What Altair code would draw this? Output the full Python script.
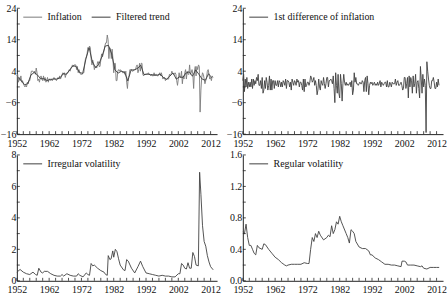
import altair as alt
import numpy as np
import pandas as pd

FONT = "Liberation Serif"

# Quarterly inflation (annualised %), 1952Q1 - 2012Q4
inflation = [
    2.5, 3.0, 0.5, 2.0,   1.0, 2.5, 0.5, 1.0,   0.0, -0.5, -1.0, -0.5,  -1.0, 0.5, 0.0, 1.0,
    1.0, 2.5, 4.0, 4.0,   4.0, 3.5, 4.0, 3.0,   5.0, 3.5, 1.0, 1.5,   0.5, 2.0, 2.5, 1.5,
    1.0, 2.5, 1.0, 2.0,   0.5, 1.0, 2.0, 0.5,   1.5, 1.5, 1.0, 1.5,   1.0, 1.5, 2.0, 1.5,
    1.5, 1.0, 1.5, 2.0,   1.5, 2.5, 1.5, 2.0,   3.0, 3.5, 3.0, 3.5,   2.0, 3.0, 3.5, 3.5,
    4.0, 4.5, 4.0, 5.0,   5.5, 6.0, 5.5, 6.0,   6.0, 6.0, 4.5, 5.5,   3.5, 4.5, 3.5, 3.0,
    3.0, 3.0, 3.5, 3.5,   6.0, 8.0, 8.5, 9.5,   11.5, 11.0, 12.0, 11.5, 8.0, 6.0, 7.5, 6.5,
    4.5, 5.5, 5.5, 5.0,   7.0, 7.0, 5.5, 5.5,   7.5, 9.5, 8.5, 9.5,   10.5, 12.0, 13.0, 13.0,
    15.5, 14.0, 8.0, 11.5, 11.0, 8.0, 11.0, 8.0, 3.5, 6.5, 6.5, 1.0,   1.0, 4.0, 4.5, 4.0,
    4.5, 4.0, 4.0, 3.5,   3.5, 4.0, 3.0, 4.0,   0.5, -1.5, 2.0, 2.5,  4.5, 4.5, 4.5, 4.0,
    4.0, 4.5, 4.5, 4.5,   5.5, 6.0, 3.5, 4.5,   6.5, 4.0, 6.5, 6.5,   3.0, 2.5, 3.0, 3.0,
    3.0, 3.0, 3.0, 3.5,   3.0, 3.0, 2.5, 3.0,   2.5, 2.5, 3.5, 2.5,   3.0, 3.0, 2.5, 2.5,
    3.0, 3.5, 2.5, 3.5,   2.5, 1.5, 2.0, 2.0,   1.0, 1.5, 1.5, 1.5,   1.5, 3.0, 2.5, 3.0,
    4.0, 3.5, 3.0, 3.0,   3.5, 3.0, 1.0, -0.5,  1.5, 3.5, 2.0, 2.0,   4.0, 0.0, 2.5, 1.5,
    3.5, 4.5, 1.5, 4.0,   3.0, 3.0, 6.0, 3.0,   3.5, 4.5, 3.0, -1.5,  4.0, 5.5, 2.5, 5.5,
    4.5, 6.0, 5.5, -9.0,  -2.0, 2.0, 3.5, 3.0,  1.5, 0.0, 1.0, 2.0,   4.0, 4.5, 3.0, 1.5,
    2.0, 1.0, 2.5, 2.0,
]

# Filtered trend, one value per year 1952 - 2012
trend_years = list(range(1952, 2013))
trend = [
    2.0, 1.0, -0.3, 0.0, 2.8, 3.6, 2.8, 1.6, 1.6, 1.0,
    1.4, 1.5, 1.5, 1.9, 3.2, 3.0, 4.4, 5.7, 5.5, 3.6,
    3.3, 7.8, 11.5, 7.0, 5.1, 6.2, 8.7, 12.0, 12.2, 9.5,
    4.4, 3.4, 4.0, 3.6, 0.9, 4.4, 4.4, 4.9, 5.9, 2.9,
    3.1, 2.9, 2.8, 2.7, 3.1, 2.0, 1.4, 2.5, 3.4, 1.5,
    2.2, 2.0, 3.4, 3.8, 2.4, 4.4, 3.0, 1.5, 1.1, 3.2,
    1.9,
]

# Quarterly first difference of inflation, 1952Q1 - 2012Q4
first_diff = [
    1.0, 3.0, -2.5, 1.5,  -1.0, 2.0, -1.5, 0.5,  -1.0, 0.5, -1.0, 1.5,  -1.5, 1.5, -0.5, 1.0,
    0.0, 2.0, 1.0, 3.0,   -0.5, -0.5, 1.0, -1.5, 2.0, -3.0, -2.0, 1.0,  -1.5, 2.0, 0.5, -2.0,
    -0.5, 2.5, -2.0, 1.5, -2.0, 1.0, 1.0, -1.5,  1.0, -0.5, -0.5, 1.0,  -1.0, 1.0, 0.5, -1.0,
    0.5, -1.0, 1.0, 0.5,  -0.5, 1.5, -1.5, 1.0,  1.0, 0.5, -1.0, 0.5,   -2.0, 1.5, 0.5, -0.5,
    1.0, 0.5, -0.5, 1.5,  0.5, 1.0, -1.0, 0.5,   0.5, -0.5, -2.0, 1.5,  -2.5, 1.5, -1.0, -0.5,
    0.5, 0.5, -0.5, 0.5,  2.5, 2.0, 0.5, 1.0,    2.0, -0.5, 1.0, -0.5,  -3.5, -2.0, 1.5, -1.0,
    -2.0, 1.0, 0.0, -0.5, 2.0, 0.0, -1.5, 0.0,   2.0, 2.0, -1.0, 1.0,   1.0, 1.5, 1.0, 0.0,
    2.5, -1.5, -6.0, 3.5, -0.5, -3.0, 3.0, -3.0, -4.5, 3.0, 0.0, -5.5,  0.0, 3.0, 0.5, -0.5,
    0.5, -0.5, 0.0, -0.5, 0.0, 0.5, -1.0, 1.0,   -3.5, -2.0, 3.5, 0.5,  2.0, 0.0, 0.0, -0.5,
    0.0, 0.5, 0.0, 0.0,   1.0, 0.5, -2.5, 1.0,   2.0, -2.5, 2.5, 0.0,   -3.5, -0.5, 0.5, 0.0,
    0.5, -0.5, 0.0, 0.5,  -0.5, 0.0, -0.5, 0.5,  -0.5, 0.0, 1.0, -1.0,  0.5, 0.0, -0.5, 0.0,
    0.5, 0.5, -1.0, 1.0,  -1.0, -1.0, 0.5, 0.0,  -1.0, 0.5, 0.0, 0.0,   0.0, 1.5, -0.5, 0.5,
    1.0, -0.5, -0.5, 0.0, 0.5, -0.5, -2.0, -1.5, 2.0, 2.0, -1.5, 0.0,   2.0, -4.5, 2.5, -1.0,
    2.0, 1.0, -3.0, 2.5,  -1.0, 0.0, 3.0, -3.0,  0.5, 1.0, -1.5, -4.5,  5.5, 1.5, -3.0, 3.0,
    -1.0, 1.5, -0.5, -15.5, 7.0, 4.0, 1.5, -0.5, -1.5, -1.5, 1.0, 1.0,  2.0, 0.5, -1.5, -1.5,
    0.5, -1.0, 1.5, -0.5,
]

# Irregular volatility
irr_years = [
    1952.0, 1953.0, 1954.0, 1955.0, 1956.0, 1957.0, 1957.8, 1958.3, 1958.8, 1959.5,
    1960.0, 1960.5, 1961.5, 1962.5, 1963.5, 1964.5, 1965.5, 1966.0, 1966.5, 1967.5,
    1968.5, 1969.5, 1970.5, 1971.0, 1971.5, 1972.5, 1973.5, 1974.0, 1974.5, 1975.0,
    1975.5, 1976.0, 1977.0, 1978.0, 1979.0, 1979.5, 1980.0, 1980.3, 1980.8, 1981.2,
    1981.7, 1982.0, 1982.5, 1983.0, 1983.5, 1984.0, 1985.0, 1985.5, 1986.0, 1986.5,
    1987.5, 1988.5, 1989.5, 1990.3, 1991.0, 1992.0, 1993.0, 1994.0, 1995.0, 1996.0,
    1997.0, 1998.0, 1999.0, 2000.0, 2001.0, 2002.0, 2002.5, 2003.0, 2003.5, 2004.0,
    2004.5, 2005.0, 2005.5, 2006.0, 2006.5, 2007.0, 2007.5, 2008.2, 2008.6, 2009.0,
    2009.5, 2010.0, 2010.5, 2011.0, 2011.5, 2012.0, 2012.8,
]
irr_vol = [
    0.55, 0.72, 0.55, 0.45, 0.40, 0.55, 0.40, 0.35, 0.80, 0.55,
    0.50, 0.60, 0.60, 0.45, 0.35, 0.30, 0.30, 0.40, 0.30, 0.45,
    0.35, 0.30, 0.30, 0.45, 0.35, 0.25, 0.50, 0.40, 0.35, 1.10,
    0.95, 1.00, 0.80, 0.65, 0.55, 0.40, 0.35, 1.60, 1.35, 1.40,
    1.90, 1.50, 2.00, 1.85, 1.40, 1.00, 0.70, 0.65, 1.35, 1.25,
    0.80, 0.50, 0.90, 1.25, 0.90, 0.50, 0.45, 0.40, 0.35, 0.30,
    0.35, 0.30, 0.30, 0.25, 0.25, 0.45, 0.45, 1.10, 1.00, 0.80,
    0.75, 1.15, 0.80, 0.80, 1.80, 1.55, 1.00, 0.95, 6.90, 5.50,
    3.50, 2.50, 2.20, 1.60, 1.20, 0.90, 0.70,
]

# Regular volatility
reg_years = [
    1952.0, 1952.5, 1953.0, 1953.5, 1954.0, 1954.5, 1955.0, 1955.5, 1956.0, 1956.5,
    1957.0, 1958.0, 1958.5, 1959.0, 1960.0, 1961.0, 1962.0, 1963.0, 1964.0, 1965.0,
    1965.5, 1966.0, 1967.0, 1968.0, 1969.0, 1970.0, 1971.0, 1972.0, 1972.5, 1973.0,
    1973.5, 1974.0, 1974.5, 1975.0, 1975.5, 1976.0, 1977.0, 1978.0, 1978.5, 1979.0,
    1979.5, 1980.0, 1980.5, 1981.0, 1981.5, 1982.0, 1982.5, 1983.0, 1984.0, 1984.5,
    1985.0, 1985.5, 1986.0, 1986.5, 1987.0, 1988.0, 1989.0, 1990.0, 1991.0, 1991.5,
    1992.0, 1993.0, 1994.0, 1995.0, 1996.0, 1997.0, 1998.0, 1999.0, 2000.0, 2001.0,
    2001.3, 2002.0, 2002.5, 2003.0, 2004.0, 2005.0, 2006.0, 2007.0, 2007.5, 2008.0,
    2009.0, 2010.0, 2011.0, 2012.0, 2012.8,
]
reg_vol = [
    0.62, 0.60, 0.72, 0.55, 0.45, 0.45, 0.40, 0.35, 0.33, 0.45,
    0.42, 0.40, 0.47, 0.46, 0.40, 0.35, 0.30, 0.27, 0.23, 0.20,
    0.19, 0.20, 0.21, 0.21, 0.21, 0.21, 0.23, 0.22, 0.22, 0.40,
    0.55, 0.50, 0.60, 0.55, 0.63, 0.58, 0.52, 0.55, 0.58, 0.56,
    0.70, 0.60, 0.65, 0.75, 0.72, 0.82, 0.75, 0.70, 0.60, 0.55,
    0.48, 0.65, 0.63, 0.60, 0.50, 0.43, 0.41, 0.41, 0.38, 0.33,
    0.33, 0.29, 0.27, 0.24, 0.21, 0.21, 0.20, 0.20, 0.19, 0.18,
    0.25, 0.25, 0.24, 0.20, 0.20, 0.20, 0.19, 0.18, 0.19, 0.16,
    0.15, 0.17, 0.17, 0.17, 0.17,
]

quarters = 1952 + np.arange(len(inflation)) * 0.25

X_DOMAIN = [1952, 2014]
X_LABELS = list(range(1952, 2013, 10))
X_TICKS = list(range(1952, 2014, 2))
W, H = 202, 127
TICK = 3


def panel(frames, names, colors, ydom, ylabels, yticks, yfmt):
    df = pd.concat(frames, ignore_index=True)
    x_scale = alt.Scale(domain=X_DOMAIN, nice=False, zero=False)
    y_scale = alt.Scale(domain=ydom, nice=False, zero=False)
    x_axis = alt.Axis(values=X_LABELS, format="d", title=None, labelFlush=False)
    y_axis = alt.Axis(values=ylabels, format=yfmt, title=None, labelFlush=False)
    lines = alt.Chart(df).mark_line(strokeWidth=0.9).encode(
        x=alt.X("t:Q", scale=x_scale, axis=x_axis),
        y=alt.Y("v:Q", scale=y_scale, axis=y_axis),
        color=alt.Color(
            "s:N",
            scale=alt.Scale(domain=names, range=colors),
            legend=alt.Legend(
                orient="none", legendX=6, legendY=-1, direction="horizontal",
                title=None, symbolType="stroke", symbolSize=361,
                symbolStrokeWidth=1, labelFont=FONT, labelFontSize=10,
                labelColor="#111", labelOffset=5, columnPadding=7, padding=0,
            ),
        ),
        order="t:Q",
    )
    # short inward tick marks along both axes
    xt = alt.Chart(pd.DataFrame({"t": X_TICKS})).mark_rule(
        color="#222", strokeWidth=0.8
    ).encode(
        x=alt.X("t:Q", scale=x_scale, axis=x_axis),
        y=alt.value(H), y2=alt.value(H - TICK),
    )
    yt = alt.Chart(pd.DataFrame({"v": yticks})).mark_rule(
        color="#222", strokeWidth=0.8
    ).encode(
        y=alt.Y("v:Q", scale=y_scale, axis=y_axis),
        x=alt.value(0), x2=alt.value(TICK),
    )
    return alt.layer(lines, xt, yt).properties(width=W, height=H)


def frame(t, v, s):
    return pd.DataFrame({"t": t, "v": v, "s": s})


infl_ticks = [-16, -11, -6, -1, 4, 9, 14, 19, 24]

p1 = panel(
    [frame(quarters, inflation, "Inflation"),
     frame(np.array(trend_years) + 0.375, trend, "Filtered trend")],
    ["Inflation", "Filtered trend"], ["#7a7a7a", "#3a3a3a"],
    [-16, 24], [-16, -6, 4, 14, 24], infl_ticks, "d",
)
p2 = panel(
    [frame(quarters, first_diff, "1st difference of inflation")],
    ["1st difference of inflation"], ["#404040"],
    [-16, 24], [-16, -6, 4, 14, 24], infl_ticks, "d",
)
p3 = panel(
    [frame(irr_years, irr_vol, "Irregular volatility")],
    ["Irregular volatility"], ["#404040"],
    [0, 8], [0, 2, 4, 6, 8], [0, 1, 2, 3, 4, 5, 6, 7, 8], "d",
)
p4 = panel(
    [frame(reg_years, reg_vol, "Regular volatility")],
    ["Regular volatility"], ["#404040"],
    [0, 1.6], [0, 0.4, 0.8, 1.2, 1.6],
    [0, 0.2, 0.4, 0.6, 0.8, 1.0, 1.2, 1.4, 1.6], ".1f",
)

chart = alt.concat(
    p1, p2, p3, p4, columns=2, spacing={"row": 21, "column": 26}, bounds="flush"
).resolve_scale(
    color="independent", x="independent", y="independent"
).resolve_legend(
    color="independent"
).properties(
    padding={"left": 0, "top": 2, "right": 0, "bottom": 0},
    background="white",
).configure_view(stroke=None).configure_axis(
    grid=False, domain=True, domainColor="#222", domainWidth=1,
    ticks=False, tickSize=0, labelPadding=1,
    labelFont=FONT, labelFontSize=10, labelColor="#111",
).configure_axisX(labelPadding=4)

chart.save("out.html", embed_options={"renderer": "svg", "actions": False})
